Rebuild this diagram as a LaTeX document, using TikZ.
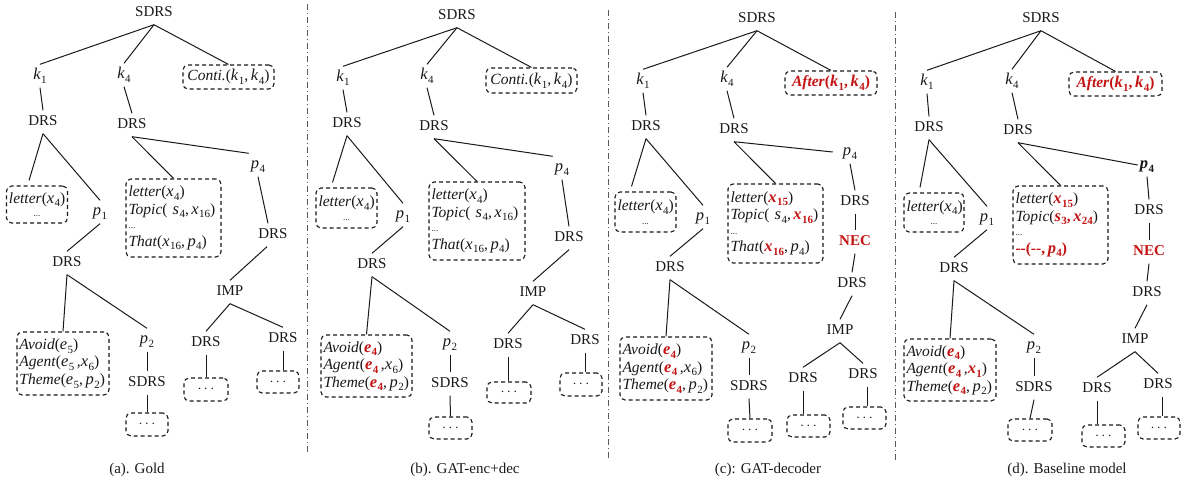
\documentclass[tikz,border=0pt]{standalone}
\usepackage{fontspec}
\setmainfont{Liberation Serif}
\usetikzlibrary{calc}
\definecolor{dred}{RGB}{196,20,20}
\definecolor{lc}{RGB}{25,25,25}
\definecolor{dc}{RGB}{90,90,90}
\newcommand{\vn}[2]{{\fontsize{16.5}{17}\selectfont\textit{#1}}\kern0.4pt\raisebox{-0.24em}{\fontsize{11}{11}\selectfont #2}}
\newcommand{\vrd}[2]{\textcolor{dred}{{\fontsize{16.5}{17}\selectfont\textbf{\textit{#1}}}\kern0.4pt\raisebox{-0.24em}{\fontsize{11}{11}\selectfont\bfseries #2}}}
\newcommand{\vbk}[2]{{\fontsize{16.5}{17}\selectfont\textbf{\textit{#1}}}\kern0.4pt\raisebox{-0.24em}{\fontsize{11}{11}\selectfont\bfseries #2}}
\newcommand{\sdots}{{\small ...}}
\tikzset{
  every node/.style={font=\fontsize{15}{17.5}\selectfont, text=lc},
  tn/.style={inner xsep=2pt, inner ysep=5pt, text height=10pt, text depth=3pt},
  bx/.style={draw=lc, dash pattern=on 4pt off 3pt, rounded corners=5pt, line width=1.1pt, inner xsep=2.5pt, inner ysep=2pt, font=\fontsize{15.5}{17.5}\selectfont},
  ln/.style={draw=lc, line width=1pt},
  dv/.style={draw=dc, line width=0.9pt, dash pattern=on 6pt off 3pt on 1pt off 3pt},
  capn/.style={inner sep=2pt}
}
\begin{document}
\begin{tikzpicture}[x=1pt,y=-1pt]
\path[use as bounding box] (0,0) rectangle (1183,482);

% dividers
\draw[dv] (307,4) -- (307,455);
\draw[dv] (608,10) -- (608,460);
\draw[dv] (895,12) -- (895,462);

% ================= Panel (a)
\node[tn] (sA) at (154,13) {SDRS};
\node[tn] (k1A) at (40,76) {\vn{k}{1}};
\node[tn] (k4A) at (124,75) {\vn{k}{4}};
\node[bx, text width=86pt, minimum height=24pt, align=center] (rA) at (228.5,77) {\textit{Conti.}(\vn{k}{1},\,\vn{k}{4})};
\node[tn] (d1A) at (43,122) {DRS};
\node[tn] (d2A) at (132,125) {DRS};
\node[bx, text width=56pt, minimum height=37pt, align=center] (lA) at (37,204.5) {\textit{letter}(\vn{x}{4})\\[-4pt]\sdots};
\node[tn] (p1A) at (100,212) {\vn{p}{1}};
\node[bx, text width=90pt, minimum height=78pt, align=left] (bA) at (173.5,218) {\textit{letter}(\vn{x}{4})\\ \textit{Topic}( \vn{s}{4},\,\vn{x}{16})\\[-3pt] \sdots\\ \textit{That}(\vn{x}{16},\,\vn{p}{4})};
\node[tn] (p4A) at (258,165) {\vn{p}{4}};
\node[tn] (d3A) at (273,235) {DRS};
\node[tn] (d4A) at (67,263) {DRS};
\node[bx, text width=87pt, minimum height=63pt, align=left] (vA) at (63,363.5) {\textit{Avoid}(\vn{e}{5})\\ \textit{Agent}(\vn{e}{5}\,,\vn{x}{6})\\ \textit{Theme}(\vn{e}{5},\,\vn{p}{2})};
\node[tn] (p2A) at (147,340) {\vn{p}{2}};
\node[tn] (s2A) at (147,383) {SDRS};
\node[bx, minimum width=42pt, minimum height=23pt] (o1A) at (147,424.5) {$\cdots$};
\node[tn] (iA) at (230,292) {IMP};
\node[tn] (d5A) at (206,343) {DRS};
\node[tn] (d6A) at (283,339) {DRS};
\node[bx, minimum width=44pt, minimum height=23pt] (o2A) at (206,389.5) {$\cdots$};
\node[bx, minimum width=42pt, minimum height=22pt] (o3A) at (278,382) {$\cdots$};
\node[capn] (cA) at (137,470) {(a). Gold};

\draw[ln] (sA.south) -- (k1A.north);
\draw[ln] (sA.south) -- (k4A.north);
\draw[ln] (sA.south) -- (rA.north);
\draw[ln] (k1A.south) -- (d1A.north);
\draw[ln] (k4A.south) -- (d2A.north);
\draw[ln] (d1A.south) -- ([xshift=-8pt,yshift=5pt]lA.north);
\draw[ln] (d1A.south) -- (p1A.north);
\draw[ln] (d2A.south) -- (bA.north);
\draw[ln] (d2A.south) -- (p4A.north west);
\draw[ln] (p4A.south) -- ([xshift=-5pt]d3A.north);
\draw[ln] ([xshift=-6pt]d3A.south) -- (iA.north);
\draw[ln] (p1A.south) -- (d4A.north);
\draw[ln] (d4A.south) -- (vA.north);
\draw[ln] (d4A.south) -- (p2A.north);
\draw[ln] (p2A.south) -- (s2A.north);
\draw[ln] (s2A.south) -- (o1A.north);
\draw[ln] (iA.south) -- (d5A.north);
\draw[ln] (iA.south) -- (d6A.north);
\draw[ln] (d5A.south) -- (d5A.south |- o2A.north);
\draw[ln] (d6A.south) -- (d6A.south |- o3A.north);

% ================= Panel (b)
\node[tn] (sB) at (457,16) {SDRS};
\node[tn] (k1B) at (343,78) {\vn{k}{1}};
\node[tn] (k4B) at (427,76) {\vn{k}{4}};
\node[bx, text width=86pt, minimum height=25pt, align=center] (rB) at (531.5,80.5) {\textit{Conti.}(\vn{k}{1},\,\vn{k}{4})};
\node[tn] (d1B) at (347,124) {DRS};
\node[tn] (d2B) at (434,127) {DRS};
\node[bx, text width=56pt, minimum height=40pt, align=center] (lB) at (346.5,208) {\textit{letter}(\vn{x}{4})\\[-4pt]\sdots};
\node[tn] (p1B) at (403,215) {\vn{p}{1}};
\node[bx, text width=91pt, minimum height=78pt, align=left] (bB) at (477,221) {\textit{letter}(\vn{x}{4})\\ \textit{Topic}( \vn{s}{4},\,\vn{x}{16})\\[-3pt] \sdots\\ \textit{That}(\vn{x}{16},\,\vn{p}{4})};
\node[tn] (p4B) at (562,168) {\vn{p}{4}};
\node[tn] (d3B) at (569,238) {DRS};
\node[tn] (d4B) at (372,265) {DRS};
\node[bx, text width=86pt, minimum height=62pt, align=left] (vB) at (366.5,366) {\textit{Avoid}(\vrd{e}{4})\\ \textit{Agent}(\vrd{e}{4}\,,\vn{x}{6})\\ \textit{Theme}(\vrd{e}{4},\,\vn{p}{2})};
\node[tn] (p2B) at (450,343) {\vn{p}{2}};
\node[tn] (s2B) at (450,384) {SDRS};
\node[bx, minimum width=43pt, minimum height=22pt] (o1B) at (450.5,428) {$\cdots$};
\node[tn] (iB) at (533,293) {IMP};
\node[tn] (d5B) at (508,345) {DRS};
\node[tn] (d6B) at (585,341) {DRS};
\node[bx, minimum width=44pt, minimum height=21pt] (o2B) at (509,392.5) {$\cdots$};
\node[bx, minimum width=42pt, minimum height=23pt] (o3B) at (581,384.5) {$\cdots$};
\node[capn] (cB) at (465,470) {(b). GAT-enc+dec};

\draw[ln] (sB.south) -- (k1B.north);
\draw[ln] (sB.south) -- (k4B.north);
\draw[ln] (sB.south) -- (rB.north);
\draw[ln] (k1B.south) -- (d1B.north);
\draw[ln] (k4B.south) -- (d2B.north);
\draw[ln] (d1B.south) -- ([xshift=-14pt,yshift=5pt]lB.north);
\draw[ln] (d1B.south) -- (p1B.north);
\draw[ln] (d2B.south) -- (bB.north);
\draw[ln] (d2B.south) -- (p4B.north west);
\draw[ln] (p4B.south) -- (d3B.north);
\draw[ln] (d3B.south) -- (iB.north);
\draw[ln] (p1B.south) -- (d4B.north);
\draw[ln] (d4B.south) -- (vB.north);
\draw[ln] (d4B.south) -- (p2B.north);
\draw[ln] (p2B.south) -- (s2B.north);
\draw[ln] (s2B.south) -- (o1B.north);
\draw[ln] (iB.south) -- (d5B.north);
\draw[ln] (iB.south) -- (d6B.north);
\draw[ln] (d5B.south) -- (d5B.south |- o2B.north);
\draw[ln] (d6B.south) -- (d6B.south |- o3B.north);

% ================= Panel (c)
\node[tn] (sC) at (757,19) {SDRS};
\node[tn] (k1C) at (643,81) {\vn{k}{1}};
\node[tn] (k4C) at (727,79) {\vn{k}{4}};
\node[bx, text width=87pt, minimum height=24pt, align=center] (rC) at (831,83) {\textcolor{dred}{\textbf{\textit{After}(}\vrd{k}{1}\textbf{,\,}\vrd{k}{4}\textbf{)}}};
\node[tn] (d1C) at (646,127) {DRS};
\node[tn] (d2C) at (734,130) {DRS};
\node[bx, text width=56pt, minimum height=40pt, align=center] (lC) at (645.5,212) {\textit{letter}(\vn{x}{4})\\[-4pt]\sdots};
\node[tn] (p1C) at (703,217) {\vn{p}{1}};
\node[bx, text width=90pt, minimum height=79pt, align=left] (bC) at (775.5,223.5) {\textit{letter}(\vrd{x}{15})\\ \textit{Topic}( \vn{s}{4},\,\vrd{x}{16})\\[-3pt] \sdots\\ \textit{That}(\vrd{x}{16},\,\vn{p}{4})};
\node[tn] (p4C) at (850,152) {\vn{p}{4}};
\node[tn] (d3C) at (855,202) {DRS};
\node[tn] (nC) at (855,242) {\textcolor{dred}{\textbf{NEC}}};
\node[tn] (d4C) at (852,284) {DRS};
\node[tn] (iC) at (840,331) {IMP};
\node[tn] (d5C) at (803,379) {DRS};
\node[tn] (d6C) at (863,375) {DRS};
\node[bx, minimum width=43pt, minimum height=22pt] (o2C) at (808.5,426) {$\cdots$};
\node[bx, minimum width=43pt, minimum height=22pt] (o3C) at (864.5,418) {$\cdots$};
\node[tn] (d7C) at (670,268) {DRS};
\node[bx, text width=87pt, minimum height=63pt, align=left] (vC) at (666,368.5) {\textit{Avoid}(\vrd{e}{4})\\ \textit{Agent}(\vrd{e}{4}\,,\vn{x}{6})\\ \textit{Theme}(\vrd{e}{4},\,\vn{p}{2})};
\node[tn] (p2C) at (749,346) {\vn{p}{2}};
\node[tn] (s2C) at (749,387) {SDRS};
\node[bx, minimum width=44pt, minimum height=23pt] (o1C) at (750,430.5) {$\cdots$};
\node[capn] (cC) at (768,470) {(c): GAT-decoder};

\draw[ln] (sC.south) -- (k1C.north);
\draw[ln] (sC.south) -- (k4C.north);
\draw[ln] (sC.south) -- (rC.north);
\draw[ln] (k1C.south) -- (d1C.north);
\draw[ln] (k4C.south) -- (d2C.north);
\draw[ln] (d1C.south) -- ([xshift=-14pt,yshift=5pt]lC.north);
\draw[ln] (d1C.south) -- (p1C.north);
\draw[ln] (d2C.south) -- (bC.north);
\draw[ln] (d2C.south) -- ([xshift=-8pt]p4C.west);
\draw[ln] (p4C.south) -- (d3C.north);
\draw[ln] (d3C.south) -- (nC.north);
\draw[ln] (nC.south) -- (d4C.north);
\draw[ln] (d4C.south) -- (iC.north);
\draw[ln] (iC.south) -- (d5C.north);
\draw[ln] (iC.south) -- (d6C.north);
\draw[ln] (d5C.south) -- (d5C.south |- o2C.north);
\draw[ln] ([xshift=4pt]d6C.south) -- ([xshift=4pt]d6C.south |- o3C.north);
\draw[ln] (p1C.south) -- (d7C.north);
\draw[ln] (d7C.south) -- (vC.north);
\draw[ln] (d7C.south) -- (p2C.north);
\draw[ln] (p2C.south) -- (s2C.north);
\draw[ln] (s2C.south) -- (o1C.north);

% ================= Panel (d)
\node[tn] (sD) at (1041,19) {SDRS};
\node[tn] (k1D) at (927,82) {\vn{k}{1}};
\node[tn] (k4D) at (1012,81) {\vn{k}{4}};
\node[bx, text width=88pt, minimum height=24pt, align=center] (rD) at (1115.5,84) {\textcolor{dred}{\textbf{\textit{After}(}\vrd{k}{1}\textbf{,\,}\vrd{k}{4}\textbf{)}}};
\node[tn] (d1D) at (929,128) {DRS};
\node[tn] (d2D) at (1018,131) {DRS};
\node[bx, text width=55pt, minimum height=39pt, align=center] (lD) at (934,212.5) {\textit{letter}(\vn{x}{4})\\[-4pt]\sdots};
\node[tn] (p1D) at (987,218) {\vn{p}{1}};
\node[bx, text width=90pt, minimum height=78pt, align=left] (bD) at (1060.5,225) {\textit{letter}(\vrd{x}{15})\\ \textit{Topic}(\vrd{s}{3}\textcolor{dred}{\textbf{,\,}}\vrd{x}{24})\\[-3pt] \sdots\\ \textcolor{dred}{\textbf{-{}-(-{}-,\,}}\vrd{p}{4}\textcolor{dred}{\textbf{)}}};
\node[tn] (p4D) at (1147,165) {\vbk{p}{4}};
\node[tn] (d3D) at (1149,211) {DRS};
\node[tn] (nD) at (1149,252) {\textcolor{dred}{\textbf{NEC}}};
\node[tn] (d4D) at (1147,293) {DRS};
\node[tn] (iD) at (1135,340) {IMP};
\node[tn] (d5D) at (1097,389) {DRS};
\node[tn] (d6D) at (1158,385) {DRS};
\node[bx, minimum width=43pt, minimum height=22pt] (o2D) at (1103.5,436) {$\cdots$};
\node[bx, minimum width=42pt, minimum height=22pt] (o3D) at (1159,428) {$\cdots$};
\node[tn] (d7D) at (954,269) {DRS};
\node[bx, text width=87pt, minimum height=62pt, align=left] (vD) at (950,370) {\textit{Avoid}(\vrd{e}{4})\\ \textit{Agent}(\vrd{e}{4}\,,\vrd{x}{1})\\ \textit{Theme}(\vrd{e}{4},\,\vn{p}{2})};
\node[tn] (p2D) at (1034,346) {\vn{p}{2}};
\node[tn] (s2D) at (1034,388) {SDRS};
\node[bx, minimum width=44pt, minimum height=22pt] (o1D) at (1030,430) {$\cdots$};
\node[capn] (cD) at (1067,470) {(d). Baseline model};

\draw[ln] (sD.south) -- (k1D.north);
\draw[ln] (sD.south) -- (k4D.north);
\draw[ln] (sD.south) -- (rD.north);
\draw[ln] (k1D.south) -- (d1D.north);
\draw[ln] (k4D.south) -- (d2D.north);
\draw[ln] (d1D.south) -- ([xshift=-14pt,yshift=5pt]lD.north);
\draw[ln] (d1D.south) -- (p1D.north);
\draw[ln] (d2D.south) -- (bD.north);
\draw[ln] (d2D.south) -- (p4D.west);
\draw[ln] (p4D.south) -- (d3D.north);
\draw[ln] (d3D.south) -- (nD.north);
\draw[ln] (nD.south) -- (d4D.north);
\draw[ln] (d4D.south) -- (iD.north);
\draw[ln] (iD.south) -- (d5D.north);
\draw[ln] (iD.south) -- (d6D.north);
\draw[ln] (d5D.south) -- (d5D.south |- o2D.north);
\draw[ln] ([xshift=4pt]d6D.south) -- ([xshift=4pt]d6D.south |- o3D.north);
\draw[ln] (p1D.south) -- (d7D.north);
\draw[ln] (d7D.south) -- (vD.north);
\draw[ln] (d7D.south) -- (p2D.north);
\draw[ln] (p2D.south) -- (s2D.north);
\draw[ln] (s2D.south) -- (o1D.north);
\end{tikzpicture}
\end{document}
